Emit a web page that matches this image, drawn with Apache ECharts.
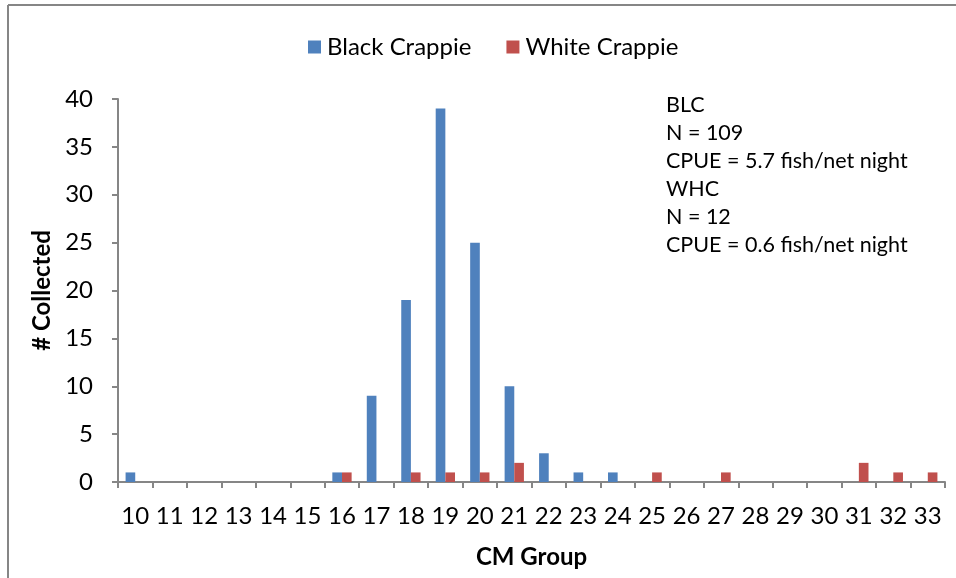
<!DOCTYPE html>
<html>
<head>
<meta charset="utf-8">
<script src="https://cdn.jsdelivr.net/npm/echarts@6/dist/echarts.min.js"></script>
<style>
html,body{margin:0;padding:0;background:#fff;}
#c{width:956px;height:578px;}
</style>
</head>
<body>
<div id="c"></div>
<script>
const categories = ['10','11','12','13','14','15','16','17','18','19','20','21','22','23','24','25','26','27','28','29','30','31','32','33'];
const blackCrappie = [1,0,0,0,0,0,1,9,19,39,25,10,3,1,1,0,0,0,0,0,0,0,0,0];
const whiteCrappie = [0,0,0,0,0,0,1,0,1,1,1,2,0,0,0,1,0,1,0,0,0,2,1,1];
const yTicks = [0,5,10,15,20,25,30,35,40];
const annotation = ['BLC','N = 109','CPUE = 5.7 fish/net night','WHC','N = 12','CPUE = 0.6 fish/net night'];

const FONT = 'Lato, "Open Sans", sans-serif';
const axisColor = '#868686';
const chart = echarts.init(document.getElementById('c'), null, {renderer:'canvas'});
chart.setOption({
  animation:false,
  backgroundColor:'#ffffff',
  textStyle:{fontFamily:FONT},
  legend:{
    top:30, left:303,
    itemWidth:13, itemHeight:13, itemGap:35,
    icon:'rect',
    textStyle:{fontFamily:FONT, fontSize:24, color:'#000', padding:[0,0,0,1]},
    data:['Black Crappie','White Crappie']
  },
  grid:{left:118, right:11, top:99, bottom:96, containLabel:false},
  xAxis:{
    type:'category',
    data:categories,
    name:'CM Group',
    nameLocation:'middle',
    nameGap:63,
    nameTextStyle:{fontFamily:FONT, fontSize:24, fontWeight:'bold', color:'#000'},
    axisLine:{lineStyle:{color:axisColor, width:2}},
    axisTick:{show:true, length:6, lineStyle:{color:axisColor, width:2}, alignWithLabel:false},
    axisLabel:{fontFamily:FONT, fontSize:24, color:'#000', margin:22, interval:0},
    splitLine:{show:false}
  },
  yAxis:{
    type:'value',
    min:yTicks[0], max:yTicks[yTicks.length-1], interval:5,
    name:'# Collected',
    nameLocation:'middle',
    nameGap:62,
    nameRotate:90,
    nameTextStyle:{fontFamily:FONT, fontSize:24, fontWeight:'bold', color:'#000'},
    axisLine:{show:true, lineStyle:{color:axisColor, width:2}},
    axisTick:{show:true, length:6, lineStyle:{color:axisColor, width:2}},
    axisLabel:{fontFamily:FONT, fontSize:24, color:'#000', margin:25},
    splitLine:{show:false}
  },
  series:[
    {name:'Black Crappie', type:'bar', data:blackCrappie, barGap:'0%', barCategoryGap:'44%', itemStyle:{color:'#4F81BD'}},
    {name:'White Crappie', type:'bar', data:whiteCrappie, barGap:'0%', barCategoryGap:'44%', itemStyle:{color:'#C0504D'}}
  ],
  graphic:[
    {type:'line', shape:{x1:8, y1:5, x2:8, y2:578}, style:{stroke:'#868686', lineWidth:2}},
    {type:'line', shape:{x1:8, y1:5, x2:956, y2:5}, style:{stroke:'#868686', lineWidth:2}},
    {type:'text', left:666, top:91, style:{text:annotation.join('\n'), fontFamily:FONT, fontSize:21.5, lineHeight:28, fill:'#000'}}
  ]
});
</script>
</body>
</html>
